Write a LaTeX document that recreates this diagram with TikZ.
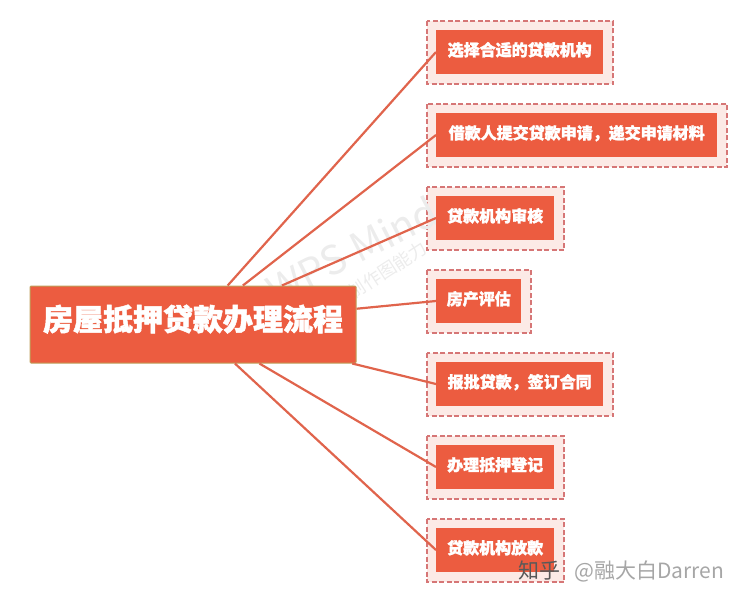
\documentclass[tikz,border=0pt]{standalone}
\usepackage{fontspec}
\usetikzlibrary{positioning}
\setmainfont[BoldFeatures={FakeBold=1.6}]{Noto Sans CJK SC}
\definecolor{boxred}{RGB}{236,92,64}
\definecolor{linered}{RGB}{224,100,76}
\definecolor{dashred}{RGB}{214,118,118}
\definecolor{paleback}{RGB}{252,234,230}
\definecolor{mainedge}{RGB}{190,160,90}
\definecolor{markgray}{RGB}{236,236,236}
\tikzset{
  mainbox/.style={draw=mainedge,fill=boxred,line width=1pt,rounded corners=1pt,text=white,font=\fontsize{30}{30}\bfseries\selectfont,text depth=14pt,minimum width=326pt,minimum height=77pt,inner sep=0pt},
  stepbox/.style={fill=boxred,text=white,font=\fontsize{16}{16}\bfseries\selectfont,text depth=6pt,minimum height=44pt,inner sep=0pt,anchor=west},
  outerbox/.style={draw=dashred,fill=paleback,line width=2pt,dash pattern=on 5pt off 2.5pt},
  linkline/.style={draw=linered,line width=2.2pt},
  markbig/.style={text=markgray,font=\fontsize{40}{40}\selectfont,rotate=27},
  marksmall/.style={text=markgray,font=\fontsize{18}{18}\selectfont,rotate=33},
  markcorner/.style={anchor=west}
}
\begin{document}
\begin{tikzpicture}[x=1pt,y=-1pt]
\useasboundingbox (0,0) rectangle (747,603);

% Dashed frames
\draw[outerbox] (427,21) rectangle (613,84);
\draw[outerbox] (427,104) rectangle (727,167);
\draw[outerbox] (427,187) rectangle (564,250);
\draw[outerbox] (427,270) rectangle (531,333);
\draw[outerbox] (427,353) rectangle (613,416);
\draw[outerbox] (427,436) rectangle (564,499);
\draw[outerbox] (427,519) rectangle (564,582);

% Watermark
\node[markbig] (markbig) at (352,250) {WPS Mind};
\node[marksmall] (marksmall) at (352,293) {WPS Mind制作图能力};

% Nodes
\node[mainbox] (main) at (193,324.5) {房屋抵押贷款办理流程};
\node[stepbox,minimum width=167pt] (choose) at (436,52) {选择合适的贷款机构};
\node[stepbox,minimum width=281pt] (apply) at (436,135) {借款人提交贷款申请，递交申请材料};
\node[stepbox,minimum width=118pt] (review) at (436,218) {贷款机构审核};
\node[stepbox,minimum width=85pt] (assess) at (436,301) {房产评估};
\node[stepbox,minimum width=167pt] (sign) at (436,384) {报批贷款，签订合同};
\node[stepbox,minimum width=118pt] (register) at (436,467) {办理抵押登记};
\node[stepbox,minimum width=118pt] (release) at (436,550) {贷款机构放款};

% Connectors
\foreach \target in {choose,apply,review,assess,sign,register,release}
  \draw[linkline] (main) -- (\target.west);

% Corner mark
\node[markcorner,text=black!65,font=\fontsize{21}{21}\selectfont] (zhihu) at (515,571) {知乎};
\node[markcorner,text=black!35,font=\fontsize{21}{21}\selectfont,right=7pt of zhihu] (author) {@融大白Darren};

\end{tikzpicture}
\end{document}
